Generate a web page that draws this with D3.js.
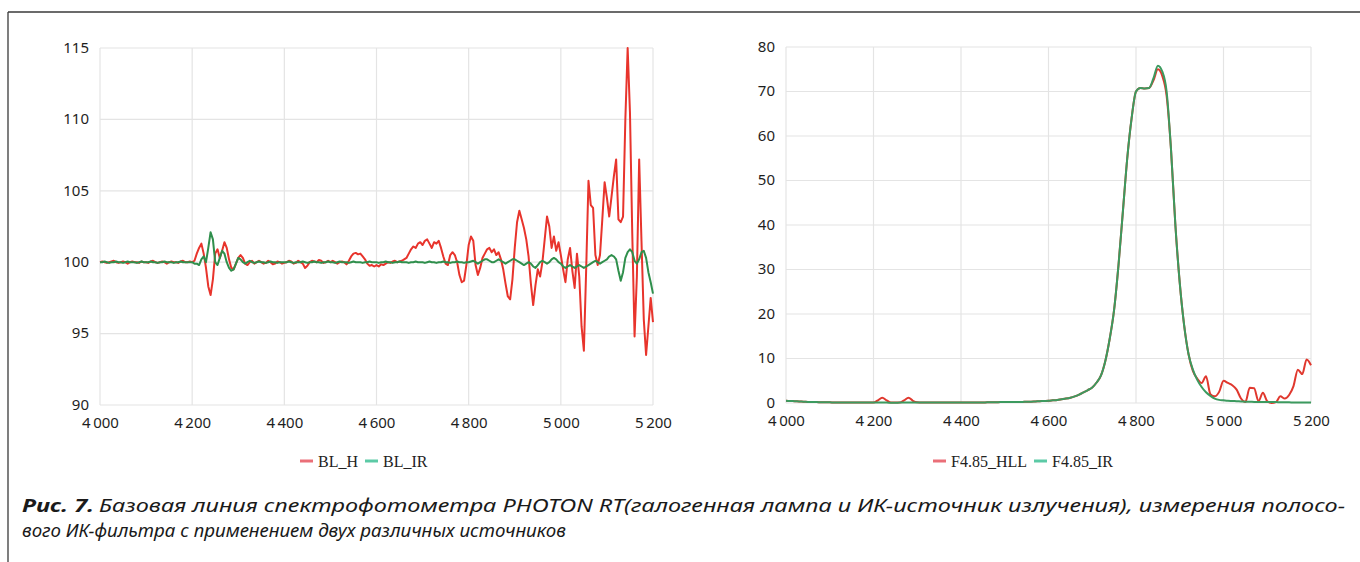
<!DOCTYPE html>
<html>
<head>
<meta charset="utf-8">
<script src="https://cdn.jsdelivr.net/npm/d3@7"></script>
<style>
body { margin: 0; background: #fff; }
</style>
</head>
<body>
<script>
/*
    Data. Left panel: baseline (%) with
    step 5 cm-1, right panel: band filter transmission with step 10 cm-1.
*/
var wnLeft = d3.range(4000, 5201, 5);
var blH = [
    100.0,100.05,100.0,99.95,100.0,100.05,100.1,100.0,99.95,100.0,100.05,100.0,99.9,100.0,100.05,100.0,100.0,99.95,100.05,100.0,
    100.0,99.95,100.05,100.1,100.0,99.95,100.0,100.05,100.0,99.9,100.0,100.05,100.0,100.0,99.95,100.05,100.1,100.0,100.0,100.05,
    100.0,100.1,100.6,101.0,101.3,100.6,99.6,98.3,97.7,98.8,100.6,100.9,100.3,100.8,101.4,101.0,100.2,99.6,99.5,99.9,
    100.3,100.5,100.3,99.9,99.8,100.0,100.1,99.9,100.0,100.1,100.0,99.9,99.95,100.1,100.0,99.85,99.9,100.05,100.0,99.9,
    99.95,100.0,100.1,100.05,99.9,99.95,100.1,100.0,99.9,99.6,99.75,100.0,100.1,100.05,100.0,100.15,100.1,99.95,100.0,100.1,
    100.0,100.1,100.0,99.9,100.0,100.05,100.0,99.85,100.1,100.4,100.6,100.65,100.55,100.6,100.4,100.2,99.9,99.75,99.8,99.7,
    99.8,99.7,99.85,99.8,99.9,100.0,99.95,100.05,100.1,100.0,100.05,100.1,100.2,100.3,100.6,100.9,101.1,101.0,101.3,101.4,
    101.2,101.5,101.6,101.3,101.0,101.4,101.3,101.5,101.0,100.4,99.9,99.8,100.5,100.7,100.5,100.0,99.1,98.6,98.7,99.8,
    101.2,101.8,101.5,99.8,99.1,99.6,100.3,100.6,100.9,101.0,100.7,100.9,100.5,100.7,100.2,99.5,98.5,97.6,97.4,98.8,
    101.0,102.8,103.6,103.0,102.4,101.6,100.4,98.5,97.0,98.4,99.5,99.0,100.0,101.6,103.2,102.5,101.0,101.8,100.8,101.4,
    100.5,99.5,98.6,100.2,101.0,99.4,98.2,100.6,99.0,95.5,93.8,99.5,105.7,104.0,103.8,100.5,99.8,100.5,103.0,105.6,
    104.5,103.2,104.6,106.0,107.2,103.0,102.8,103.2,110.0,115.0,110.5,102.0,94.8,99.0,107.2,101.5,96.0,93.5,95.5,97.5,
    95.8
];
var blIR = [
    100.0,100.0,100.05,100.0,99.95,100.0,100.0,100.05,100.0,100.0,99.95,100.0,100.05,100.0,100.0,100.0,99.95,100.0,100.05,100.0,
    100.0,100.0,100.05,100.0,100.0,99.95,100.0,100.0,100.05,100.0,100.0,100.0,99.95,100.0,100.0,100.05,100.0,100.0,100.0,100.0,
    100.0,99.9,99.9,99.8,100.2,100.4,100.0,101.0,102.1,101.6,100.0,99.8,100.3,100.8,100.6,100.0,99.6,99.4,99.5,99.9,
    100.3,100.2,100.0,99.9,100.0,100.1,100.0,99.95,100.0,100.05,100.0,100.0,99.95,100.0,100.05,100.0,100.0,99.95,100.0,100.0,
    100.0,100.0,100.05,100.0,99.95,100.0,100.0,100.0,100.05,100.0,99.95,100.0,100.0,100.05,100.0,100.0,99.95,100.0,100.0,100.05,
    100.0,100.0,99.95,100.0,100.05,100.0,100.0,100.0,99.95,100.0,100.05,100.0,100.0,100.0,99.95,100.0,100.0,100.05,100.0,100.0,
    100.0,99.95,100.0,100.0,100.05,100.0,100.0,99.95,100.0,100.0,100.05,100.0,100.0,100.0,99.95,100.0,100.0,100.05,100.0,100.0,
    100.0,99.95,100.0,100.05,100.0,100.0,99.95,100.0,100.0,100.05,100.0,100.0,99.95,100.0,100.0,100.05,100.0,100.0,99.95,100.0,
    100.0,100.05,100.1,100.0,99.9,100.0,100.1,100.2,100.2,100.1,100.0,100.0,100.1,100.2,100.1,100.0,99.9,100.0,100.1,100.2,
    100.2,100.1,100.0,99.9,99.8,99.9,100.0,99.9,99.7,99.6,99.8,100.0,100.1,100.0,99.9,100.0,100.2,100.3,100.2,100.0,
    99.9,99.7,99.6,99.7,99.8,99.7,99.6,99.7,99.8,99.7,99.6,99.7,99.8,99.9,100.0,100.1,100.0,99.9,100.0,100.1,
    100.2,100.4,100.5,100.4,100.2,99.4,98.7,99.3,100.3,100.7,100.9,100.7,100.1,99.9,100.2,100.7,100.8,100.3,99.3,98.6,
    97.8
];

var wnRight = d3.range(4000, 5201, 10);
var hll = [
    0.5,0.45,0.4,0.35,0.3,0.25,0.2,0.2,0.15,0.15,
    0.15,0.1,0.1,0.1,0.1,0.1,0.1,0.1,0.1,0.1,
    0.1,0.6,1.2,0.6,0.1,0.1,0.1,0.6,1.2,0.5,
    0.15,0.1,0.1,0.1,0.1,0.1,0.1,0.1,0.1,0.1,
    0.1,0.1,0.1,0.1,0.1,0.1,0.15,0.15,0.15,0.2,
    0.2,0.2,0.2,0.25,0.25,0.3,0.3,0.35,0.4,0.45,
    0.5,0.6,0.7,0.85,1.0,1.2,1.5,1.9,2.4,2.9,
    3.5,4.6,6.2,9.5,14.5,21,31,43,55,64,
    70,70.8,70.7,70.8,72.5,75,73.5,69,57,40,
    27,17.5,11,7.2,5.5,4.5,6.0,2.0,1.5,2.5,
    5.0,4.5,4.0,3.0,1.0,0.2,3.4,3.3,0.4,2.3,
    0.4,0.0,0.2,1.5,1.0,1.8,3.8,7.5,6.5,9.8,
    8.5
];
var ir = [
    0.5,0.45,0.4,0.35,0.3,0.25,0.2,0.2,0.15,0.15,
    0.15,0.1,0.1,0.1,0.1,0.1,0.1,0.1,0.1,0.1,
    0.1,0.1,0.1,0.1,0.05,0.05,0.1,0.1,0.1,0.1,
    0.1,0.1,0.1,0.1,0.1,0.1,0.1,0.1,0.1,0.1,
    0.1,0.1,0.1,0.1,0.1,0.1,0.15,0.15,0.15,0.2,
    0.2,0.2,0.2,0.25,0.25,0.3,0.3,0.35,0.4,0.45,
    0.5,0.6,0.7,0.85,1.0,1.2,1.5,1.9,2.4,2.9,
    3.5,4.6,6.2,9.5,14.5,21,31,43,55,64,
    70,70.8,70.7,70.8,73,75.8,74.5,70,57,40,
    27,17.5,11,7.5,5.2,3.6,2.4,1.6,1.0,0.7,
    0.6,0.5,0.45,0.4,0.35,0.3,0.3,0.25,0.25,0.2,
    0.2,0.2,0.2,0.15,0.15,0.15,0.1,0.1,0.1,0.1,
    0.1
];

var xTicks = [4000, 4200, 4400, 4600, 4800, 5000, 5200];
var leftYTicks = [90, 95, 100, 105, 110, 115];
var rightYTicks = [0, 10, 20, 30, 40, 50, 60, 70, 80];
var leftNames = ["BL_H", "BL_IR"];
var rightNames = ["F4.85_HLL", "F4.85_IR"];
var caption1 = "Базовая линия спектрофотометра PHOTON RT(галогенная лампа и ИК-источник излучения), измерения полосо-";
var caption2 = "вого ИК-фильтра с применением двух различных источников";

var w = 1360;
var h = 562;

var ru = d3.formatLocale({decimal: ",", thousands: "\u2009", grouping: [3], currency: ["", ""]});
var fmtX = ru.format(",d");

var svg = d3.select("body")
    .append("svg")
    .attr("width", w)
    .attr("height", h)
    .style("display", "block");

// frame of the figure (top and left rule)
svg.append("line")
    .attr("x1", 8).attr("y1", 12).attr("x2", w).attr("y2", 12)
    .attr("stroke", "#3a3a3a").attr("stroke-width", 1.3);
svg.append("line")
    .attr("x1", 8).attr("y1", 12).attr("x2", 8).attr("y2", h)
    .attr("stroke", "#3a3a3a").attr("stroke-width", 1.3);

function drawPanel(p){
    var xScale = d3.scaleLinear().domain([4000, 5200]).range(p.xr);
    var yScale = d3.scaleLinear().domain(p.yd).range(p.yr);
    var g = svg.append("g");

    // grid
    g.selectAll(".vg").data(xTicks).enter().append("line")
        .attr("x1", function(d){ return xScale(d); })
        .attr("x2", function(d){ return xScale(d); })
        .attr("y1", p.yr[1]).attr("y2", p.yr[0])
        .attr("stroke", "#e4e4e4").attr("stroke-width", 1.2);
    g.selectAll(".hg").data(p.yTicks).enter().append("line")
        .attr("x1", p.xr[0]).attr("x2", p.xr[1])
        .attr("y1", function(d){ return yScale(d); })
        .attr("y2", function(d){ return yScale(d); })
        .attr("stroke", "#e4e4e4").attr("stroke-width", 1.2);

    // axes, drawn with d3.axis and stripped of domain/ticks
    var xAxis = g.append("g")
        .attr("transform", "translate(0," + p.yr[0] + ")")
        .call(d3.axisBottom(xScale).tickValues(xTicks).tickFormat(fmtX).tickSize(0).tickPadding(12));
    var yAxis = g.append("g")
        .attr("transform", "translate(" + p.xr[0] + ",0)")
        .call(d3.axisLeft(yScale).tickValues(p.yTicks).tickSize(0).tickPadding(11));
    [xAxis, yAxis].forEach(function(a){
        a.select(".domain").remove();
        a.selectAll("text")
            .attr("fill", "#1e1e1e")
            .style("font-family", "'Noto Sans', sans-serif")
            .style("font-size", "15px");
    });
    yAxis.selectAll("text").attr("dy", "0.28em");

    var line = d3.line()
        .x(function(d){ return xScale(d[0]); })
        .y(function(d){ return yScale(d[1]); })
        .curve(p.curve);

    p.series.forEach(function(s){
        g.append("path")
            .datum(p.wn.map(function(x, i){ return [x, s.values[i]]; }))
            .attr("fill", "none")
            .attr("stroke", s.color)
            .attr("stroke-width", 2)
            .attr("stroke-linejoin", "round")
            .attr("d", line);
    });

    // legend
    var lx = p.legendX;
    p.series.forEach(function(s){
        g.append("line")
            .attr("x1", lx).attr("x2", lx + 13)
            .attr("y1", 461).attr("y2", 461)
            .attr("stroke", s.swatch).attr("stroke-width", 3);
        var t = g.append("text")
            .attr("x", lx + 18)
            .attr("y", 467)
            .attr("fill", "#222")
            .style("font-family", "'Liberation Serif', serif")
            .style("font-size", "16px")
            .text(s.name);
        lx = lx + 18 + t.node().getComputedTextLength() + 7;
    });
}

drawPanel({
    xr: [100, 653], yd: [90, 115], yr: [405, 48], yTicks: leftYTicks,
    wn: wnLeft, curve: d3.curveLinear, legendX: 300,
    series: [
        {name: leftNames[0], values: blH, color: "#e8342c", swatch: "#ea6f78"},
        {name: leftNames[1], values: blIR, color: "#2f8f4c", swatch: "#5ccaa6"}
    ]
});

drawPanel({
    xr: [786, 1311], yd: [0, 80], yr: [403, 47], yTicks: rightYTicks,
    wn: wnRight, curve: d3.curveMonotoneX, legendX: 933,
    series: [
        {name: rightNames[0], values: hll, color: "#e0382e", swatch: "#ea6f78"},
        {name: rightNames[1], values: ir, color: "#3c9a5f", swatch: "#5ccaa6"}
    ]
});

// caption
function captionText(x, y, len, txt, bold){
    svg.append("text")
        .attr("x", x).attr("y", y)
        .attr("fill", "#1a1a1a")
        .style("font-family", "'Noto Sans', sans-serif")
        .style("font-size", "18px")
        .style("font-style", "italic")
        .style("font-weight", bold ? "bold" : "normal")
        .attr("textLength", len)
        .attr("lengthAdjust", "spacingAndGlyphs")
        .text(txt);
}
captionText(22, 512, 72, "Рис. 7.", true);
captionText(99, 512, 1246, caption1, false);
captionText(22, 537, 544, caption2, false);
</script>
</body>
</html>
